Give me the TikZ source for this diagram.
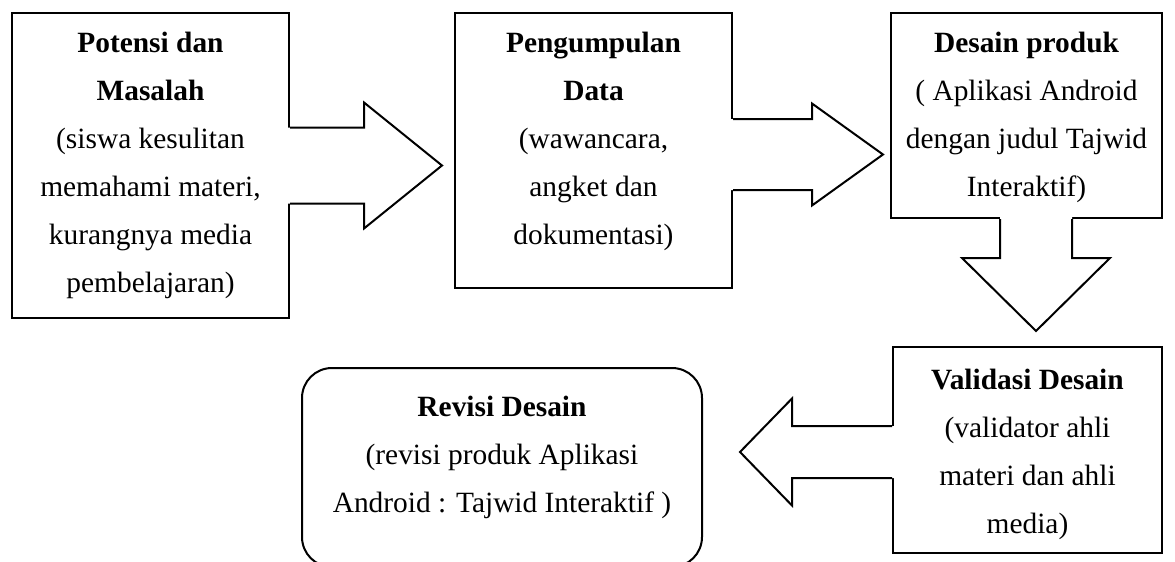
\documentclass[tikz,border=0pt]{standalone}
\usepackage{fontspec}
\setmainfont{Liberation Serif}
\usetikzlibrary{positioning}
\tikzset{
  box/.style={
    draw, line width=1pt, inner sep=0pt
  },
  txt/.style={
    align=center, inner sep=0pt,
    font=\fontsize{14.7}{24}\selectfont
  },
  blk/.style={
    line width=1pt, line join=miter
  }
}

\begin{document}
\begin{tikzpicture}[x=0.5pt,y=-0.5pt]
  \useasboundingbox (0,0) rectangle (1175,562);
  \clip (0,0) rectangle (1175,562);
  % the five steps
  \node[box, minimum width=138.5pt, minimum height=152.5pt] (P1) at (150.5,165.5) {};
  \node[box, minimum width=138.5pt, minimum height=137.5pt] (P2) at (593.5,150.5) {};
  \node[box, minimum width=135.5pt, minimum height=102.5pt] (P3) at (1026.5,115.5) {};
  \node[box, minimum width=134.5pt, minimum height=103pt] (P4) at (1027.5,450) {};
  \node[box, rounded corners=15pt, minimum width=200pt, minimum height=99.5pt] (P5) at (502,467.5) {};
  % block arrows
  \begin{scope}[shift={(P1.east)}]
    \fill[white] (-3,-38) -- (74,-38) -- (74,-63) -- (152,0) -- (74,63) -- (74,38) -- (-3,38) -- cycle;
    \draw[blk] (0,-38) -- (74,-38) -- (74,-63) -- (152,0) -- (74,63) -- (74,38) -- (0,38);
  \end{scope}
  \begin{scope}[shift={(P2.east)}, yshift=-2pt]
    \fill[white] (-3,-35.5) -- (79,-35.5) -- (79,-51) -- (150,0) -- (79,51) -- (79,35.5) -- (-3,35.5) -- cycle;
    \draw[blk] (0,-35.5) -- (79,-35.5) -- (79,-51) -- (150,0) -- (79,51) -- (79,35.5) -- (0,35.5);
  \end{scope}
  \begin{scope}[shift={(P3.south)}, xshift=4.75pt]
    \fill[white] (-36,-3) -- (-36,39) -- (-74,39) -- (0,112) -- (74,39) -- (36,39) -- (36,-3) -- cycle;
    \draw[blk] (-36,0) -- (-36,39) -- (-74,39) -- (0,112) -- (74,39) -- (36,39) -- (36,0);
  \end{scope}
  \begin{scope}[shift={(P4.west)}, yshift=-1pt]
    \fill[white] (3,-26) -- (-100,-26) -- (-100,-53.5) -- (-152,0) -- (-100,53.5) -- (-100,26) -- (3,26) -- cycle;
    \draw[blk] (0,-26) -- (-100,-26) -- (-100,-53.5) -- (-152,0) -- (-100,53.5) -- (-100,26) -- (0,26);
  \end{scope}
  % texts
  \node[txt, below=10pt of P1.north] (T1) {\textbf{Potensi dan}\\\textbf{Masalah}\\(siswa kesulitan\\memahami materi,\\kurangnya media\\pembelajaran)};
  \node[txt, below=10pt of P2.north] (T2) {\textbf{Pengumpulan}\\\textbf{Data}\\(wawancara,\\angket dan\\dokumentasi)};
  \node[txt, below=10pt of P3.north] (T3) {\textbf{Desain produk}\\( Aplikasi Android\\dengan judul Tajwid\\Interaktif)};
  \node[txt, below=11.5pt of P4.north] (T4) {\textbf{Validasi Desain}\\(validator ahli\\materi dan ahli\\media)};
  \node[txt, below=14.5pt of P5.north] (T5) {\textbf{Revisi Desain}\\(revisi produk Aplikasi\\Android : Tajwid Interaktif )};
\end{tikzpicture}
\end{document}
